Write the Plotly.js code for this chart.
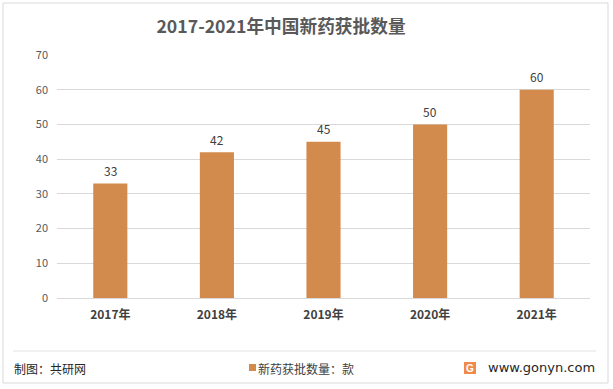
<!DOCTYPE html>
<html>
<head>
<meta charset="utf-8">
<script src="https://cdn.plot.ly/plotly-3.0.1.min.js"></script>
<style>
html,body{margin:0;padding:0;background:#fff;}
#chart{width:613px;height:389px;}
</style>
</head>
<body>
<div id="chart"></div>
<script>
const categories = ['2017年', '2018年', '2019年', '2020年', '2021年'];
const values = [33, 42, 45, 50, 60];
const seriesName = '新药获批数量：款';
const titleText = '2017-2021年中国新药获批数量';
const sourceText = '制图：共研网';
const siteText = 'www.gonyn.com';

const W = 613, H = 389;
const L = 57, R = 23, T = 55, B = 91;
const pw = W - L - R, ph = H - T - B;
const px = v => (v - L) / pw;          // pixel x -> paper x
const py = v => (H - B - v) / ph;      // pixel y -> paper y

const cjk = '"Noto Sans CJK SC", "Microsoft YaHei", sans-serif';
const barColor = '#D38B4D';

const trace = {
  type: 'bar',
  x: categories,
  y: values,
  name: seriesName,
  marker: {color: barColor},
  width: 0.32,
  showlegend: false,
  hoverinfo: 'x+y'
};

const annotations = values.map((v, i) => ({
  x: categories[i], y: v, xref: 'x', yref: 'y',
  text: String(v), showarrow: false, yshift: 13, yanchor: 'middle',
  font: {family: cjk, size: 12, color: '#404040'}
}));

annotations.push(
  {xref: 'paper', yref: 'paper', x: px(12), y: py(368), xanchor: 'left', yanchor: 'middle',
   text: sourceText, showarrow: false, font: {family: cjk, size: 12, color: '#262626'}},
  {xref: 'paper', yref: 'paper', x: px(256), y: py(368), xanchor: 'left', yanchor: 'middle',
   text: seriesName, showarrow: false, font: {family: cjk, size: 12, color: '#404040'}},
  {xref: 'paper', yref: 'paper', x: px(486), y: py(367), xanchor: 'left', yanchor: 'middle',
   text: siteText, showarrow: false, font: {family: '"DejaVu Sans", sans-serif', size: 13, color: '#262626'}},
  {xref: 'paper', yref: 'paper', x: px(470), y: py(368), xanchor: 'center', yanchor: 'middle',
   text: '<b>G</b>', showarrow: false, font: {family: '"Liberation Sans", sans-serif', size: 10, color: '#ffffff'}}
);

const shapes = [
  // outer frame
  {type: 'rect', xref: 'paper', yref: 'paper', x0: px(3), x1: px(608), y0: py(3), y1: py(383),
   line: {color: '#d9d9d9', width: 1}, fillcolor: 'rgba(0,0,0,0)', layer: 'below'},
  // footer separator
  {type: 'line', xref: 'paper', yref: 'paper', x0: px(13), x1: px(596), y0: py(351), y1: py(351),
   line: {color: '#e3e3e3', width: 1}},
  // legend swatch
  {type: 'rect', xref: 'paper', yref: 'paper', x0: px(249), x1: px(256), y0: py(364), y1: py(371),
   line: {width: 0}, fillcolor: barColor},
  // logo block
  {type: 'rect', xref: 'paper', yref: 'paper', x0: px(464), x1: px(476), y0: py(362), y1: py(374),
   line: {width: 0}, fillcolor: '#F08A4B'}
];

const layout = {
  width: W, height: H,
  margin: {l: L, r: R, t: T, b: B, pad: 0, autoexpand: false},
  paper_bgcolor: '#ffffff',
  plot_bgcolor: '#ffffff',
  title: {
    text: '<b>' + titleText + '</b>',
    font: {family: cjk, size: 17.7, color: '#595959'},
    x: 281 / W, xanchor: 'center', xref: 'container',
    y: 1 - 27 / H, yanchor: 'middle', yref: 'container'
  },
  xaxis: {
    type: 'category', automargin: false,
    showgrid: false, zeroline: false, showline: false, ticks: '',
    tickfont: {family: cjk, size: 12, color: '#404040', weight: 'bold'},
    ticklabelstandoff: 8
  },
  yaxis: {
    range: [0, 70], dtick: 10, tick0: 0, automargin: false,
    showgrid: true, gridcolor: '#d9d9d9', gridwidth: 1,
    zeroline: true, zerolinecolor: '#d9d9d9', zerolinewidth: 1,
    showline: false, ticks: '',
    tickfont: {family: cjk, size: 11, color: '#595959'},
    ticklabelstandoff: 8
  },
  showlegend: false,
  annotations: annotations,
  shapes: shapes
};

Plotly.newPlot('chart', [trace], layout, {displayModeBar: false, staticPlot: true});
</script>
</body>
</html>
